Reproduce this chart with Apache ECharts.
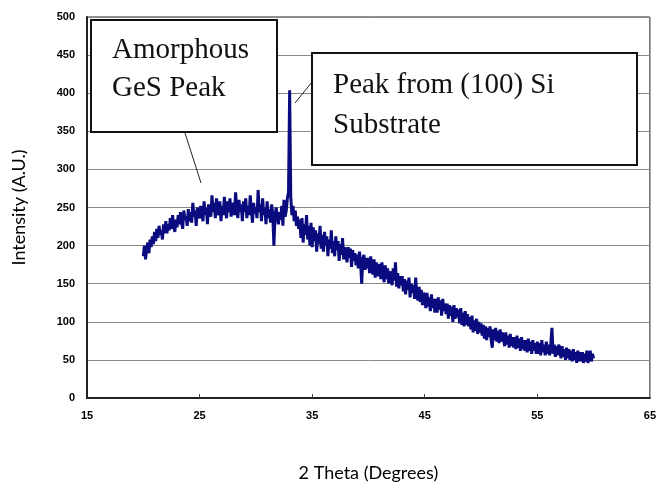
<!DOCTYPE html>
<html>
<head>
<meta charset="utf-8">
<script src="https://cdn.jsdelivr.net/npm/echarts@6/dist/echarts.min.js"></script>
<style>
  html, body { margin: 0; padding: 0; background: #fff; }
  #xrd { width: 659px; height: 489px; }
</style>
</head>
<body>
<div id="xrd"></div>
<script>
// scan starts at 20 deg, one reading every 0.1 deg
const startAngle = 20
const stepAngle = 0.1

// intensity, one row = 1 degree
const intensity = [
  186, 200, 182, 196, 204, 190, 208, 198, 212, 202,   // 20
  218, 206, 222, 210, 226, 214, 220, 208, 228, 216,   // 21
  232, 216, 228, 220, 236, 222, 240, 226, 218, 234,   // 22
  224, 240, 228, 244, 230, 222, 246, 234, 238, 226,   // 23
  248, 232, 244, 230, 256, 238, 246, 226, 250, 240,   // 24
  236, 252, 244, 232, 258, 240, 250, 228, 254, 246,   // 25
  238, 266, 244, 256, 236, 262, 248, 240, 258, 232,   // 26
  252, 240, 264, 246, 236, 258, 244, 262, 238, 250,   // 27
  256, 240, 270, 248, 236, 260, 244, 254, 232, 258,   // 28
  244, 262, 236, 252, 240, 266, 246, 230, 256, 242,   // 29
  250, 236, 273, 244, 254, 232, 262, 240, 250, 228,   // 30
  258, 236, 248, 230, 254, 242, 200, 236, 250, 238,   // 31
  228, 244, 234, 252, 226, 260, 238, 246, 262, 270,   // 32
  404, 264, 240, 252, 232, 246, 226, 238, 222, 234,   // 33
  210, 236, 204, 228, 214, 240, 208, 226, 200, 230,   // 34
  198, 224, 206, 220, 192, 216, 202, 226, 196, 214,   // 35
  192, 218, 200, 212, 186, 208, 196, 220, 190, 206,   // 36
  186, 212, 194, 206, 180, 202, 188, 210, 182, 198,   // 37
  200, 178, 198, 184, 196, 172, 194, 180, 190, 174,   // 38
  188, 170, 192, 178, 150, 182, 188, 168, 184, 170,   // 39
  184, 164, 186, 170, 162, 182, 158, 178, 166, 160,   // 40
  176, 156, 178, 162, 152, 174, 156, 170, 150, 166,   // 41
  162, 148, 170, 154, 178, 146, 164, 144, 160, 148,   // 42
  160, 140, 156, 136, 154, 142, 158, 132, 150, 138,   // 43
  148, 130, 158, 134, 128, 146, 126, 142, 122, 138,   // 44
  134, 118, 138, 120, 132, 114, 136, 118, 130, 112,   // 45
  130, 112, 132, 116, 128, 108, 130, 114, 124, 110,   // 46
  124, 104, 122, 108, 120, 100, 122, 104, 118, 106,   // 47
  116, 98, 118, 96, 112, 94, 114, 96, 110, 94,        // 48
  106, 90, 108, 86, 102, 88, 104, 84, 100, 86,        // 49
  98, 82, 96, 78, 94, 76, 92, 80, 94, 76,             // 50
  66, 90, 76, 92, 74, 88, 72, 90, 74, 86,             // 51
  84, 68, 86, 70, 82, 66, 84, 68, 80, 66,             // 52
  80, 64, 82, 66, 78, 62, 80, 64, 76, 62,             // 53
  76, 60, 78, 62, 74, 58, 76, 62, 72, 58,             // 54
  74, 58, 72, 56, 76, 60, 70, 56, 74, 58,             // 55
  70, 56, 72, 92, 58, 70, 54, 68, 56, 70,             // 56
  66, 52, 68, 54, 64, 50, 66, 52, 64, 50,             // 57
  62, 48, 64, 50, 60, 46, 62, 48, 60, 48,             // 58
  60, 46, 58, 48, 62, 46, 56, 62, 48, 58,             // 59
  52                                                  // 60
]

const xLabels = [15, 25, 35, 45, 55, 65]
const xTicks = [25, 35, 45, 55]

const points = intensity.map((v, i) => [+(startAngle + i * stepAngle).toFixed(1), v])

const chart = echarts.init(document.getElementById('xrd'))

const tickFont = {
  fontFamily: 'Liberation Sans, Arial, sans-serif',
  fontWeight: 'bold',
  fontSize: 11,
  color: '#000'
}

chart.setOption({
  animation: false,
  grid: {
    left: 87,
    right: 9,
    top: 17,
    bottom: 91,
    show: true,
    borderColor: '#222',
    borderWidth: 1
  },
  xAxis: {
    type: 'value',
    min: 15,
    max: 65,
    name: '2 Theta (Degrees)',
    nameLocation: 'middle',
    nameGap: 66,
    nameTextStyle: { fontFamily: 'Lato, Open Sans, sans-serif', fontSize: 18, color: '#000' },
    axisLine: { show: true, lineStyle: { color: '#222', width: 2 } },
    axisTick: { show: true, inside: true, length: 4, customValues: xTicks, lineStyle: { color: '#444' } },
    axisLabel: Object.assign({ customValues: xLabels, margin: 12 }, tickFont),
    splitLine: { show: false }
  },
  yAxis: {
    type: 'value',
    min: 0,
    max: 500,
    interval: 50,
    name: 'Intensity (A.U.)',
    nameLocation: 'middle',
    nameGap: 59,
    nameTextStyle: { fontFamily: 'Lato, Open Sans, sans-serif', fontSize: 18, color: '#000' },
    axisLine: { show: true, lineStyle: { color: '#222', width: 2 } },
    axisTick: { show: false },
    axisLabel: Object.assign({ margin: 12 }, tickFont),
    splitLine: { show: true, lineStyle: { color: '#888', width: 1 } }
  },
  series: [
    {
      type: 'line',
      data: points,
      symbol: 'none',
      lineStyle: { color: '#0b0b80', width: 3 },
      z: 3
    }
  ],
  graphic: [
    {
      type: 'line',
      z: 90,
      shape: { x1: 185, y1: 133, x2: 201, y2: 183 },
      style: { stroke: '#222', lineWidth: 1 }
    },
    {
      type: 'line',
      z: 90,
      shape: { x1: 312, y1: 82, x2: 295, y2: 103 },
      style: { stroke: '#222', lineWidth: 1 }
    },
    {
      type: 'rect',
      z: 100,
      shape: { x: 91, y: 20, width: 186, height: 112 },
      style: { fill: '#fff', stroke: '#111', lineWidth: 2 }
    },
    {
      type: 'text',
      z: 101,
      x: 112,
      y: 31,
      style: {
        text: 'Amorphous\nGeS Peak',
        font: '29px "Liberation Serif", "Times New Roman", serif',
        fill: '#111',
        lineHeight: 38,
        verticalAlign: 'top'
      }
    },
    {
      type: 'rect',
      z: 100,
      shape: { x: 312, y: 53, width: 325, height: 112 },
      style: { fill: '#fff', stroke: '#111', lineWidth: 2 }
    },
    {
      type: 'text',
      z: 101,
      x: 333,
      y: 65,
      style: {
        text: 'Peak from (100) Si\nSubstrate',
        font: '29px "Liberation Serif", "Times New Roman", serif',
        fill: '#111',
        lineHeight: 40,
        verticalAlign: 'top'
      }
    }
  ]
})
</script>
</body>
</html>
